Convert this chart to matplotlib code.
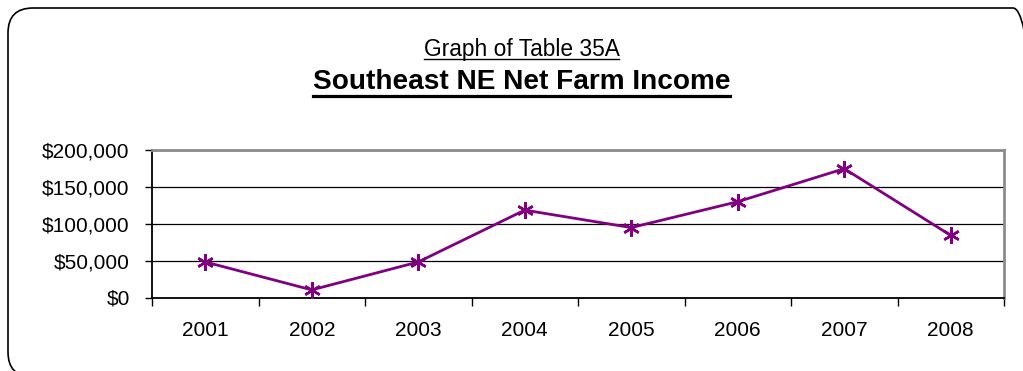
import matplotlib
matplotlib.use("Agg")
import matplotlib.pyplot as plt
from matplotlib.patches import FancyBboxPatch
from matplotlib.lines import Line2D
from matplotlib.transforms import IdentityTransform
from matplotlib.ticker import FuncFormatter, FixedLocator

plt.rcParams['font.family'] = ['Liberation Sans', 'DejaVu Sans']

# Data
years = ['2001', '2002', '2003', '2004', '2005', '2006', '2007', '2008']
net_income = [48200, 10300, 48200, 118500, 94800, 129900, 174700, 84200]
y_ticks = [0, 50000, 100000, 150000, 200000]

fig = plt.figure(figsize=(10.23, 3.71), dpi=100)
ax = fig.add_axes([152 / 1023, 1 - 297.5 / 371, (1004 - 152) / 1023, (297.5 - 150) / 371])

pos = list(range(1, len(years) + 1))
ax.plot(pos, net_income, color='#800080', linewidth=2.0,
        marker=(6, 2, 0), markersize=12, markeredgewidth=1.8,
        markeredgecolor='#800080', clip_on=False, zorder=3)

ax.set_xlim(0.5, len(years) + 0.5)
ax.set_ylim(0, 200000)

# category boundaries carry the tick marks, labels sit in the middle
ax.xaxis.set_major_locator(FixedLocator([p + 0.5 for p in range(0, len(years) + 1)]))
ax.xaxis.set_major_formatter(FuncFormatter(lambda v, p: ''))
ax.xaxis.set_minor_locator(FixedLocator(pos))
ax.set_xticks(pos, years, minor=True)
ax.tick_params(axis='x', which='major', direction='out', length=6, width=1, color='black')
ax.tick_params(axis='x', which='minor', length=0, pad=17, labelsize=15)

ax.set_yticks(y_ticks)
ax.yaxis.set_major_formatter(FuncFormatter(lambda v, p: '${:,.0f}'.format(v)))
ax.tick_params(axis='y', direction='out', length=5, width=1, pad=11, labelsize=15, color='black')

ax.grid(axis='y', color='black', linewidth=0.9)
ax.set_axisbelow(True)

ax.spines['left'].set_color('black')
ax.spines['bottom'].set_color('black')
ax.spines['left'].set_linewidth(1.3)
ax.spines['bottom'].set_linewidth(1.3)
ax.spines['top'].set_color('#8c8c8c')
ax.spines['right'].set_color('#8c8c8c')
ax.spines['top'].set_linewidth(2)
ax.spines['right'].set_linewidth(2)

# titles
cx = 521.5 / 1023
t1 = fig.text(cx, 1 - 56 / 371, 'Graph of Table 35A', ha='center', va='baseline', fontsize=16.4)
t2 = fig.text(cx, 1 - 89 / 371, 'Southeast NE Net Farm Income', ha='center', va='baseline',
              fontsize=20.2, fontweight='bold')

renderer = fig.canvas.get_renderer()
for t, y_px, lw in [(t1, 58.5, 1.0), (t2, 95.5, 2.3)]:
    bb = t.get_window_extent(renderer)
    fig.add_artist(Line2D([bb.x0, bb.x1], [371 - y_px, 371 - y_px], color='black',
                          linewidth=lw, transform=IdentityTransform()))

# rounded frame around the whole chart
frame = FancyBboxPatch((8, 371 - 377), 1030, 377 - 8,
                       boxstyle='round,pad=0,rounding_size=25',
                       transform=IdentityTransform(), facecolor='none',
                       edgecolor='black', linewidth=1.2, clip_on=False)
fig.add_artist(frame)

fig.savefig('out.png', dpi=100)
